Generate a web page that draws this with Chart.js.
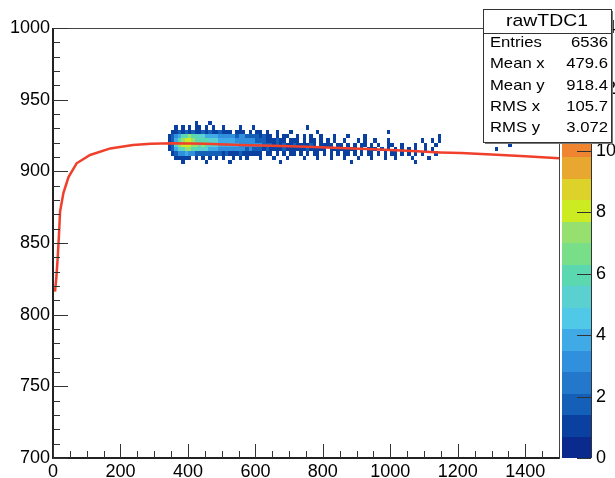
<!DOCTYPE html>
<html>
<head>
<meta charset="utf-8">
<script src="https://cdn.jsdelivr.net/npm/chart.js@4/dist/chart.umd.min.js"></script>
<style>
  body { margin: 0; background: #fff; }
  canvas { display: block; }
</style>
</head>
<body>
<canvas id="c" width="615" height="478"></canvas>
<script>
// axis ticks
const xTicks = [0, 200, 400, 600, 800, 1000, 1200, 1400];
const yTicks = [700, 750, 800, 850, 900, 950, 1000];
const zTicks = [0, 2, 4, 6, 8, 10, 12, 14];

// fit curve
const fitX = [6, 10, 14, 18, 21, 31, 46, 70, 110, 170, 237, 290, 356, 450, 554, 650, 753, 850, 949, 1050, 1147, 1210, 1300, 1400, 1500];
const fitY = [816, 826, 840, 857, 872, 885, 896, 905.6, 911.4, 916, 918.4, 919.2, 919.6, 919.2, 918.4, 917.8, 917.2, 916.3, 915.4, 914.3, 913.2, 912.8, 911.8, 910.6, 909.2];

// 2D histogram cells: one string per y row, one char per x bin (counts, hex)
const xCellStart = 340, xCellWidth = 10, yCellHeight = 3;
const yRowLow = [932, 929, 926, 923, 920, 917, 914, 911, 908, 905];
const cellRows = [
  "0000000010" + "0010000000",
  "0010101011" + "0101001000" + "0100010000" + "0000000000" + "0100000000",
  "0112121211" + "2121121110" + "1110101101" + "0010001000" + "0000100000" + "0000000000" + "0000010000",
  "1234667665" + "5444433333" + "2332222121" + "1010110010" + "1010010001" + "0001000010" + "0000000000" + "0000000000" + "1000000000",
  "1246788766" + "6655544444" + "3333332221" + "1121101110" + "1011010101" + "0010001010" + "0100010000" + "0000010010" + "1000000000",
  "1257888776" + "7655544444" + "4333333322" + "2121211211" + "1121011110" + "1101010110" + "1010011001" + "0001001001" + "0000000000" + "0000000000" + "010",
  "1245677665" + "5544433333" + "3332322212" + "1111211111" + "1211111011" + "1111110101" + "1101010101" + "0101001010" + "0000000000" + "0000000100",
  "0123343322" + "2222221211" + "1211111101" + "1010101101" + "0101101010" + "1011010101" + "1010101101" + "0101010001",
  "0011111010" + "1010101001" + "0101000100" + "0100010000" + "1000100010" + "0010001000" + "1000100100" + "0010000100",
  "0000100000" + "0100000010" + "0000000000" + "0001000000" + "0000000000" + "0000100000" + "0000000000" + "0001000000"
];

// colour palette, 20 levels over 0..14
const zMax = 14;
const paletteColors = [
  "#0a2a8e", "#0a40a0", "#1460b8", "#2478cc", "#3090de",
  "#40aae6", "#50c8e8", "#5ad0d0", "#5cd8b0", "#78de88",
  "#96e070", "#cdeb21", "#dcd22a", "#e8a830", "#ef8531",
  "#f06c2c", "#e85428", "#e04024", "#d02c20", "#c01c1c"
];

const statsTitle = "rawTDC1";
const statsLabels = ["Entries", "Mean x", "Mean y", "RMS x", "RMS y"];
const statsValues = ["6536", "479.6", "918.4", "105.7", "3.072"];

const FONT = '"Liberation Sans", Arial, sans-serif';

function levelColor(n) {
  const band = Math.min(paletteColors.length - 1, Math.floor(n * paletteColors.length / zMax));
  return paletteColors[band];
}

// text slightly stretched sideways, like the original canvas
function wideText(ctx, str, x, y, align, sx) {
  ctx.save();
  ctx.translate(x, y);
  ctx.scale(sx, 1);
  ctx.textAlign = align;
  ctx.fillText(str, 0, 0);
  ctx.restore();
}

const heatPlugin = {
  id: "heat",
  beforeDatasetsDraw(chart) {
    const { ctx } = chart;
    const x = chart.scales.x, y = chart.scales.y;
    ctx.save();
    cellRows.forEach((row, r) => {
      const lo = yRowLow[r];
      const py0 = Math.round(y.getPixelForValue(lo + yCellHeight));
      const py1 = Math.round(y.getPixelForValue(lo));
      for (let i = 0; i < row.length; i++) {
        const n = parseInt(row[i], 16);
        if (!n) continue;
        const px0 = Math.round(x.getPixelForValue(xCellStart + i * xCellWidth));
        const px1 = Math.round(x.getPixelForValue(xCellStart + (i + 1) * xCellWidth));
        ctx.fillStyle = levelColor(n);
        ctx.fillRect(px0, py0, px1 - px0, py1 - py0);
      }
    });
    ctx.restore();
  }
};

const framePlugin = {
  id: "frame",
  afterDatasetsDraw(chart) {
    const { ctx, chartArea: a } = chart;
    const x = chart.scales.x, y = chart.scales.y, z = chart.scales.z;
    ctx.save();
    // frame
    ctx.strokeStyle = "#444";
    ctx.lineWidth = 1;
    ctx.strokeRect(a.left + 0.5, a.top + 0.5, a.right - a.left, a.bottom - a.top);
    ctx.strokeStyle = "#222";
    ctx.lineWidth = 2;
    ctx.beginPath();
    ctx.moveTo(a.left, a.top);
    ctx.lineTo(a.left, a.bottom);
    ctx.lineTo(a.right, a.bottom);
    ctx.stroke();
    // ticks
    ctx.strokeStyle = "#333";
    ctx.lineWidth = 1;
    ctx.beginPath();
    for (let v = 0; v <= 1500; v += 50) {
      const px = Math.round(x.getPixelForValue(v)) + 0.5;
      const len = v % 200 === 0 ? 14 : 7;
      ctx.moveTo(px, a.bottom);
      ctx.lineTo(px, a.bottom - len);
    }
    for (let v = 700; v <= 1000; v += 10) {
      const py = Math.round(y.getPixelForValue(v)) + 0.5;
      const len = v % 50 === 0 ? 15 : 7;
      ctx.moveTo(a.left, py);
      ctx.lineTo(a.left + len, py);
    }
    ctx.stroke();

    // palette
    const bl = a.right + 3, br = a.right + 32;
    const step = zMax / paletteColors.length;
    paletteColors.forEach((col, k) => {
      const p0 = Math.round(z.getPixelForValue((k + 1) * step));
      const p1 = Math.round(z.getPixelForValue(k * step));
      ctx.fillStyle = col;
      ctx.fillRect(bl, p0, br - bl, p1 - p0);
    });
    ctx.strokeStyle = "#333";
    ctx.beginPath();
    ctx.moveTo(br + 0.5, z.getPixelForValue(zMax));
    ctx.lineTo(br + 0.5, z.getPixelForValue(0));
    zTicks.forEach(v => {
      const py = Math.round(z.getPixelForValue(v)) + 0.5;
      ctx.moveTo(br - 14, py);
      ctx.lineTo(br, py);
    });
    ctx.stroke();
    ctx.restore();
  },
  afterDraw(chart) {
    const { ctx } = chart;
    const L = 483, T = 9, R = 611, B = 142;
    ctx.save();
    ctx.fillStyle = "#fff";
    ctx.fillRect(L, T, R - L, B - T);
    ctx.strokeStyle = "#333";
    ctx.lineWidth = 1;
    ctx.strokeRect(L + 0.5, T + 0.5, R - L, B - T);
    ctx.strokeStyle = "#777";
    ctx.beginPath();
    ctx.moveTo(R + 1.5, T + 2);
    ctx.lineTo(R + 1.5, B + 1.5);
    ctx.lineTo(L + 2, B + 1.5);
    ctx.stroke();
    ctx.strokeStyle = "#333";
    ctx.beginPath();
    ctx.moveTo(L, 33.5);
    ctx.lineTo(R, 33.5);
    ctx.stroke();
    ctx.fillStyle = "#000";
    ctx.textBaseline = "middle";
    ctx.font = "17px " + FONT;
    wideText(ctx, statsTitle, (L + R) / 2, 21, "center", 1.14);
    ctx.font = "15px " + FONT;
    statsLabels.forEach((lab, i) => {
      const ty = 43 + i * 21.2;
      wideText(ctx, lab, L + 7, ty, "left", 1.11);
      wideText(ctx, statsValues[i], R - 3, ty, "right", 1.11);
    });
    ctx.restore();
  }
};

const tickFont = { family: FONT, size: 18 };
const plain = v => String(v);

new Chart(document.getElementById("c").getContext("2d"), {
  type: "scatter",
  data: {
    datasets: [{
      type: "line",
      data: fitX.map((v, i) => ({ x: v, y: fitY[i] })),
      borderColor: "#f0402c",
      borderWidth: 2.5,
      pointRadius: 0,
      fill: false,
      tension: 0
    }]
  },
  options: {
    responsive: false,
    animation: false,
    layout: { padding: { top: 28, left: 0, right: 0, bottom: 0 } },
    plugins: { legend: { display: false }, tooltip: { enabled: false } },
    scales: {
      x: {
        type: "linear", min: 0, max: 1500,
        grid: { display: false, drawTicks: false }, border: { display: false },
        ticks: { font: tickFont, color: "#000", padding: 3, autoSkip: false, maxRotation: 0, callback: plain },
        afterBuildTicks: s => { s.ticks = xTicks.map(v => ({ value: v })); },
        afterFit: s => { s.height = 20; }
      },
      y: {
        type: "linear", min: 700, max: 1000,
        grid: { display: false, drawTicks: false }, border: { display: false },
        ticks: { font: tickFont, color: "#000", padding: 3, autoSkip: false, callback: plain },
        afterBuildTicks: s => { s.ticks = yTicks.map(v => ({ value: v })); },
        afterFit: s => { s.width = 53; }
      },
      z: {
        type: "linear", position: "right", min: 0, max: zMax,
        grid: { display: false, drawTicks: true, tickLength: 36 }, border: { display: false },
        ticks: { font: tickFont, color: "#000", padding: 1, autoSkip: false, callback: plain },
        afterBuildTicks: s => { s.ticks = zTicks.map(v => ({ value: v })); },
        afterFit: s => { s.width = 56; }
      }
    }
  },
  plugins: [heatPlugin, framePlugin]
});
</script>
</body>
</html>
